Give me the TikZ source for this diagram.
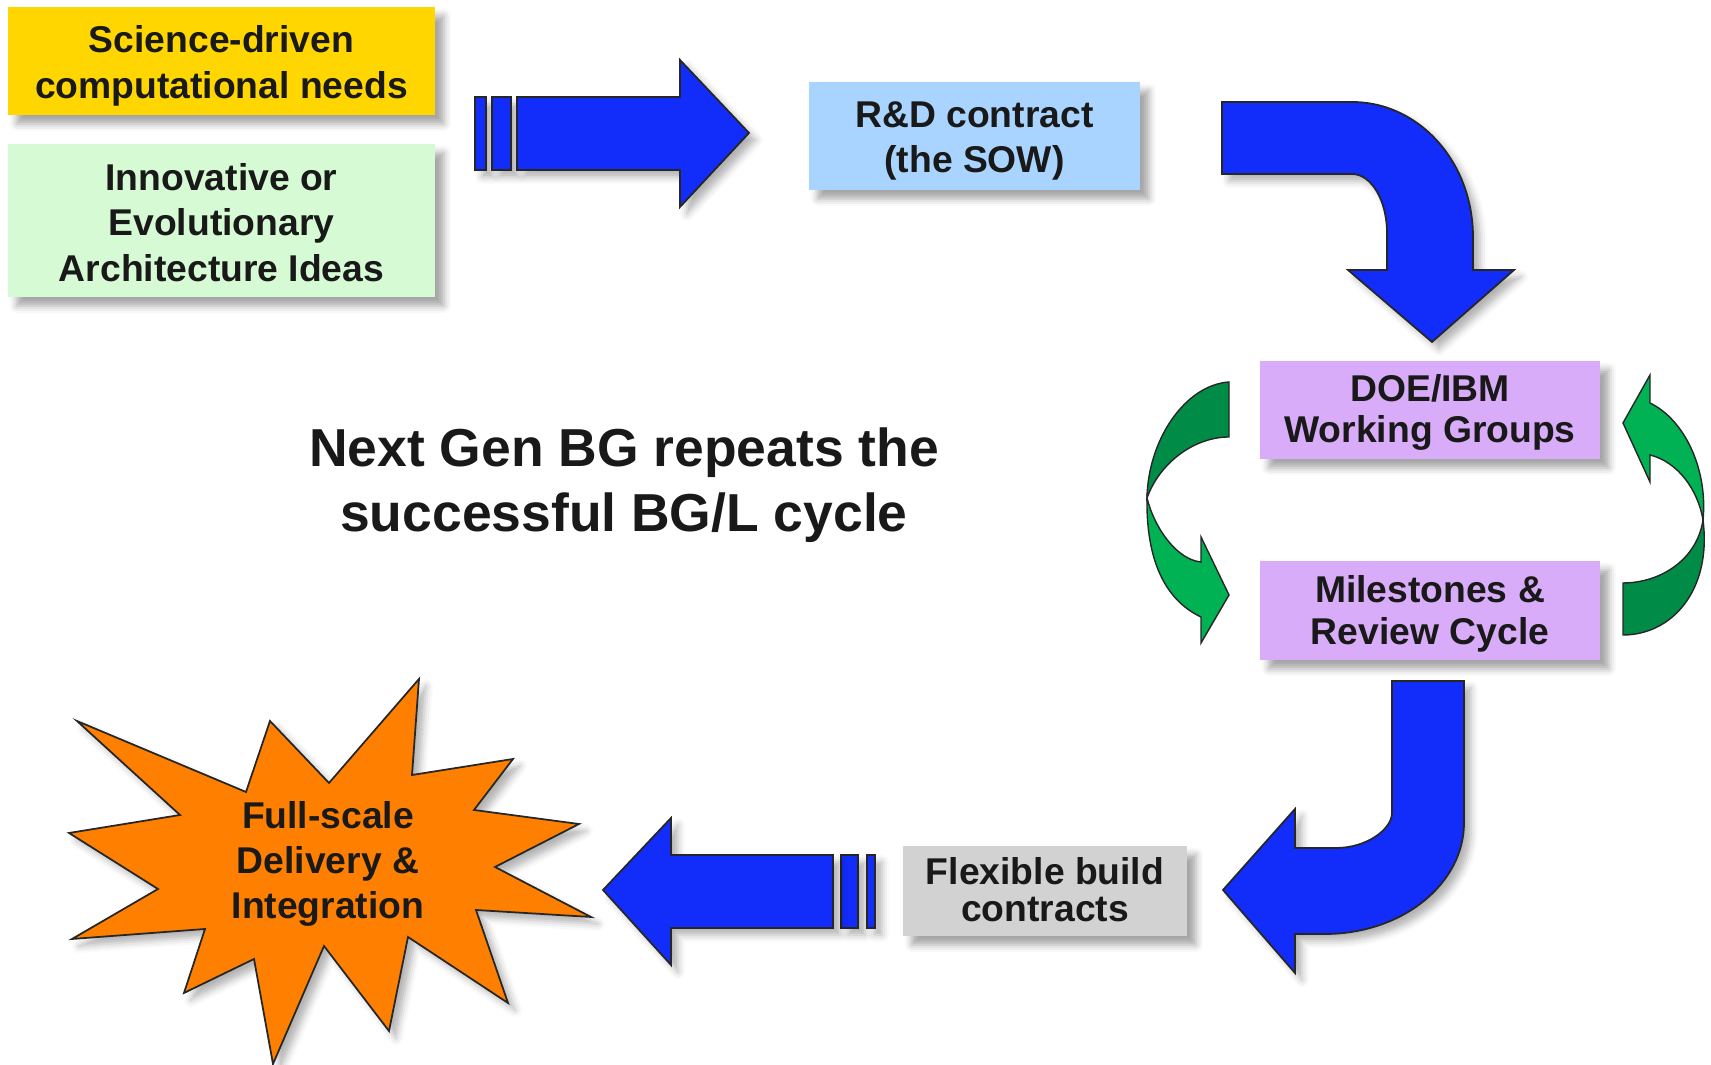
\documentclass[tikz,border=0pt]{standalone}
\usepackage{fontspec}
\setmainfont{Liberation Sans}
\usetikzlibrary{shadows.blur}

\definecolor{needsyellow}{RGB}{255,214,0}
\definecolor{ideasgreen}{RGB}{213,250,212}
\definecolor{sowblue}{RGB}{168,212,255}
\definecolor{wglilac}{RGB}{216,172,248}
\definecolor{buildgray}{RGB}{210,210,210}
\definecolor{burstorange}{RGB}{255,128,0}
\definecolor{arrowblue}{RGB}{18,44,250}
\definecolor{loopdark}{RGB}{0,140,70}
\definecolor{looplight}{RGB}{0,178,84}

\begin{document}
\begin{tikzpicture}[x=0.01cm, y=-0.01cm,
  box/.style={inner sep=0pt,
    blur shadow={shadow xshift=2.5pt, shadow yshift=-2.5pt, shadow opacity=35, shadow blur radius=2pt}},
  boxtext/.style={align=center, inner sep=0pt, text=black!90,
    font=\bfseries\fontsize{10.6}{12.9}\selectfont},
  blockarrow/.style={fill=arrowblue, draw=black!85, line width=0.5pt,
    blur shadow={shadow xshift=2pt, shadow yshift=-2pt, shadow opacity=30, shadow blur radius=2pt}},
  loop/.style={draw=black!85, line width=0.4pt}]
  \useasboundingbox (0,0) rectangle (1711,1065);

  % --- Inputs ---
  \node[box, fill=needsyellow, minimum width=4.27cm, minimum height=1.08cm] (needs) at (221.5,61) {};
  \node[boxtext] (needs text) at (221.5,66) {Science-driven\\computational needs};
  \node[box, fill=ideasgreen, minimum width=4.27cm, minimum height=1.53cm] (ideas) at (221.5,220.5) {};
  \node[boxtext] (ideas text) at (221.5,222.5) {Innovative or\\Evolutionary\\Architecture Ideas};

  % --- Contract and working loop ---
  \node[box, fill=sowblue, minimum width=3.31cm, minimum height=1.08cm] (sow) at (974.5,136) {};
  \node[boxtext] (sow text) at (974.5,141) {R\&D contract\\(the SOW)};
  \node[box, fill=wglilac, minimum width=3.40cm, minimum height=0.98cm] (wg) at (1430,410) {};
  \node[boxtext, font=\bfseries\fontsize{10.6}{11.8}\selectfont] (wg text) at (1430,412.5) {DOE/IBM\\Working Groups};
  \node[box, fill=wglilac, minimum width=3.40cm, minimum height=0.99cm] (review) at (1430,610.5) {};
  \node[boxtext, font=\bfseries\fontsize{10.6}{11.8}\selectfont] (review text) at (1430,614) {Milestones \&\\Review Cycle};
  \node[box, fill=buildgray, minimum width=2.84cm, minimum height=0.90cm] (build) at (1045,891) {};
  \node[boxtext, font=\bfseries\fontsize{10.6}{10.6}\selectfont] (build text) at (1045,890) {Flexible build\\contracts};

  \node[align=center, text=black!90, font=\bfseries\fontsize{15.2}{18.6}\selectfont] (title) at (624,485) {Next Gen BG repeats the\\successful BG/L cycle};

  % --- Blue block arrows ---
  % inputs -> SOW
  \draw[blockarrow] (475,97) rectangle (486,170);
  \draw[blockarrow] (492,97) rectangle (511,170);
  \draw[blockarrow] (517,97) -- (680,97) -- (680,60) -- (749,133) -- (680,207) -- (680,170) -- (517,170) -- cycle;

  % SOW -> working groups
  \draw[blockarrow] (1222,102) -- (1352,102) .. controls (1419,102) and (1473,162) .. (1473,237)
    -- (1473,270) -- (1514,270) -- (1432,342) -- (1348,270) -- (1387,270) -- (1387,233)
    .. controls (1387,200) and (1371,174) .. (1352,174) -- (1222,174) -- cycle;

  % review -> build contracts
  \draw[blockarrow] (1392,681) -- (1464,681) -- (1464,823) .. controls (1464,884) and (1402,934) .. (1325,934)
    -- (1295,934) -- (1295,973) -- (1223,890) -- (1295,809) -- (1295,848) -- (1336,848)
    .. controls (1367,848) and (1392,829) .. (1392,813) -- cycle;

  % build contracts -> delivery
  \draw[blockarrow] (841,855) rectangle (858,928);
  \draw[blockarrow] (867,855) rectangle (875,928);
  \draw[blockarrow] (833,855) -- (671,855) -- (671,818) -- (603,890) -- (671,965) -- (671,928) -- (833,928) -- cycle;

  % --- Green review loop ---
  % left ribbon, down
  \draw[loop, fill=loopdark] (1229,382) .. controls (1185,385) and (1148,440) .. (1147,498)
    .. controls (1160,462) and (1195,437) .. (1229,437) -- cycle;
  \draw[loop, fill=looplight] (1147,498) .. controls (1155,530) and (1178,560) .. (1201,562)
    -- (1201,537) -- (1229,595) -- (1201,643) -- (1201,617)
    .. controls (1165,600) and (1146,560) .. (1147,498) -- cycle;
  % right ribbon, up
  \draw[loop, fill=looplight] (1650,403) .. controls (1685,420) and (1708,470) .. (1703,520)
    .. controls (1698,490) and (1678,462) .. (1650,455) -- (1650,482) -- (1623,423) -- (1650,375) -- cycle;
  \draw[loop, fill=loopdark] (1703,520) .. controls (1712,590) and (1672,635) .. (1623,635)
    -- (1623,583) .. controls (1660,583) and (1697,560) .. (1703,520) -- cycle;

  % --- Delivery burst ---
  \draw[fill=burstorange, draw=black!85, line width=0.5pt,
    blur shadow={shadow xshift=2pt, shadow yshift=-2pt, shadow opacity=30, shadow blur radius=2pt}]
    (419,679) -- (412,775) -- (513,759) -- (474,810) -- (579,824) -- (495,867)
    -- (591,917) -- (476,910) -- (508,1003) -- (408,937) -- (389,1031) -- (324,946)
    -- (273,1064) -- (254,959) -- (184,993) -- (205,929) -- (72,939) -- (158,889)
    -- (69,833) -- (180,815) -- (77,721) -- (246,792) -- (270,721) -- (329,783) -- cycle;
  \node[align=center, text=black!90, font=\bfseries\fontsize{10.6}{12.8}\selectfont] (burst) at (328,864) {Full-scale\\Delivery \&\\Integration};

\end{tikzpicture}
\end{document}
